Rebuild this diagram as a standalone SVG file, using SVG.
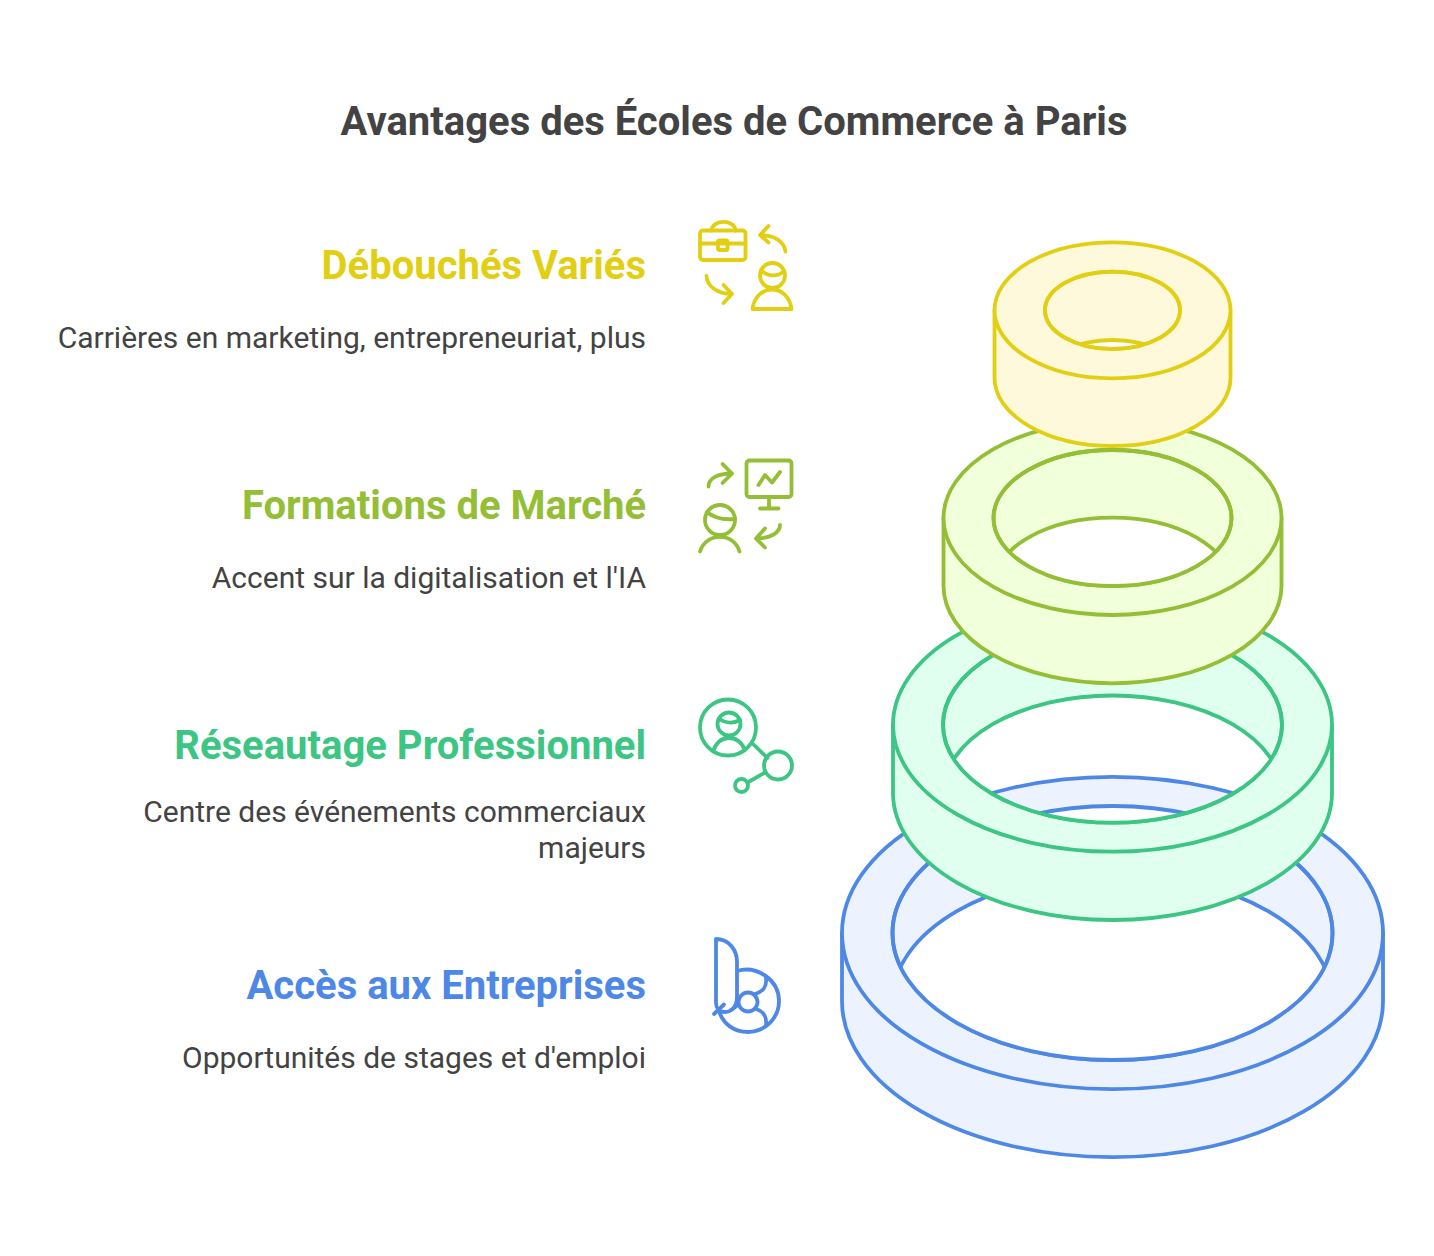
<svg xmlns="http://www.w3.org/2000/svg" width="1434" height="1256" viewBox="0 0 1434 1256">
<style>
text{font-family:Roboto,"Liberation Sans",sans-serif;text-anchor:end}
.t{font-size:40px;font-weight:700;fill:#434343;text-anchor:middle}
.h{font-size:40px;font-weight:700}
.b{font-size:30px;fill:#434343}
.s{stroke-width:3.8;stroke-linejoin:round}
.i{fill:none;stroke-width:3.8;stroke-linecap:round;stroke-linejoin:round}
.y{stroke:#E2CF13}.yf{fill:#FEF9DB}
.g{stroke:#93BE35}.gf{fill:#F1FFDA}
.e{stroke:#3CC583}.ef{fill:#E1FFEF}
.l{stroke:#4E88E7}.lf{fill:#ECF3FF}
.w{fill:#fff}
.n{fill:none}
</style>
<defs>
<clipPath id="cb"><ellipse cx="1112.5" cy="933" rx="220" ry="127"/></clipPath>
<clipPath id="ce"><ellipse cx="1112.5" cy="724.7" rx="169.5" ry="98"/></clipPath>
<clipPath id="cg"><ellipse cx="1112.5" cy="518" rx="119" ry="68"/></clipPath>
<clipPath id="cy"><ellipse cx="1112.5" cy="310.3" rx="67.5" ry="38.700"/></clipPath>
</defs>
<rect width="1434" height="1256" fill="#fff"/>
<text class="t" x="734" y="135">Avantages des Écoles de Commerce à Paris</text>

<g id="ring-blue">
<path class="s l lf" d="M842 933V1001A270.500 156.200 0 0 0 1383 1001V933Z"/>
<ellipse class="s l lf" cx="1112.500" cy="933" rx="270.500" ry="156.200"/>
<ellipse class="s l lf" cx="1112.500" cy="933" rx="220" ry="127"/>
<g clip-path="url(#cb)"><ellipse class="s l w" cx="1112.500" cy="1001" rx="220" ry="127"/></g>
<ellipse class="s l n" cx="1112.500" cy="933" rx="220" ry="127"/>
</g>
<g id="ring-teal">
<path class="s e ef" d="M893 724.700V793A219.500 127 0 0 0 1332 793V724.700Z"/>
<ellipse class="s e ef" cx="1112.500" cy="724.700" rx="219.500" ry="127"/>
<ellipse class="s e ef" cx="1112.500" cy="724.700" rx="169.500" ry="98"/>
<g clip-path="url(#ce)">
<ellipse class="w" cx="1112.500" cy="793.500" rx="169.500" ry="98"/>
<g clip-path="url(#ce)">
<ellipse class="s l lf" cx="1112.500" cy="933" rx="270.500" ry="156.200"/>
<ellipse class="s l w" cx="1112.500" cy="933" rx="220" ry="127"/>
</g>
<ellipse class="s e n" cx="1112.500" cy="793.500" rx="169.500" ry="98"/>
</g>
<ellipse class="s e n" cx="1112.500" cy="724.700" rx="169.500" ry="98"/>
</g>
<g id="ring-green">
<path class="s g gf" d="M943.500 518V586A169 97.300 0 0 0 1281.500 586V518Z"/>
<ellipse class="s g gf" cx="1112.500" cy="518" rx="169" ry="97"/>
<ellipse class="s g gf" cx="1112.500" cy="518" rx="119" ry="68"/>
<g clip-path="url(#cg)"><ellipse class="s g w" cx="1112.500" cy="585.700" rx="119" ry="68"/></g>
<ellipse class="s g n" cx="1112.500" cy="518" rx="119" ry="68"/>
</g>
<g id="ring-yellow">
<path class="s y yf" d="M994.500 310.300V378A118 68 0 0 0 1230.500 378V310.300Z"/>
<ellipse class="s y yf" cx="1112.500" cy="310.300" rx="118" ry="68"/>
<ellipse class="s y yf" cx="1112.500" cy="310.300" rx="67.500" ry="38.700"/>
<g clip-path="url(#cy)"><ellipse class="s y w" cx="1112.500" cy="378.700" rx="67.500" ry="38.700"/></g>
<ellipse class="s y n" cx="1112.500" cy="310.300" rx="67.500" ry="38.700"/>
</g>

<g id="item-debouches">
<text class="h" x="646" y="279" fill="#E2CF13">Débouchés Variés</text>
<text class="b" x="646" y="348">Carrières en marketing, entrepreneuriat, plus</text>
<g class="i y">
<rect x="700" y="230.500" width="45.500" height="29.500" rx="3"/>
<path d="M700 243.500H745.500M711.500 230.500C712 219 735 219 735.500 230.500"/>
<rect x="718" y="240.500" width="9.500" height="9.500" rx="1.500"/>
<path d="M785.500 251.500C784 241 774 235 760 235M768.500 226L760 235L768.500 242.500"/>
<path d="M706.500 276C707 286 717 294 732 294M723.500 285L732 294L723.500 303"/>
<circle cx="772.500" cy="275.500" r="12.500"/>
<path d="M761 270C768 277 778 277 784 271"/>
<path d="M752.500 309C756 283 788 283 791.500 309Z"/>
</g>
</g>

<g id="item-formations">
<text class="h" x="646" y="519" fill="#93BE35">Formations de Marché</text>
<text class="b" x="646" y="588">Accent sur la digitalisation et l'IA</text>
<g class="i g">
<rect x="746.500" y="460.500" width="45" height="36.500" rx="3"/>
<path d="M769 497V508M760 508.500H778.500"/>
<path d="M758.500 485L765 475L772 482.500L780 472"/>
<path d="M708.500 486.500C708.500 478 718 473.500 732 473.500M722.500 464L732 473.500L722.500 483"/>
<path d="M780 525C780 533 770 538.500 756 538.500M765 528.500L756 538.500L765 547.500"/>
<circle cx="720" cy="520" r="15"/>
<path d="M707 512C714 518 724 520 735 519"/>
<path d="M700 551.500C706 532 734 532 739.500 551.500"/>
</g>
</g>

<g id="item-reseautage">
<text class="h" x="646" y="759" fill="#3CC583">Réseautage Professionnel</text>
<text class="b" x="646" y="822">Centre des événements commerciaux</text>
<text class="b" x="646" y="858">majeurs</text>
<g class="i e">
<circle cx="728" cy="727.500" r="28"/>
<circle cx="729" cy="724" r="11.500"/>
<path d="M719 718.500C725 723 733 724 740 720"/>
<path d="M713.500 750C720 734 738 734 745 750"/>
<path d="M752.500 743.500L767.500 758"/>
<circle cx="778" cy="765.500" r="14"/>
<circle cx="741.500" cy="785.500" r="6.500"/>
<path d="M747.500 782.500L765 772.500"/>
</g>
</g>

<g id="item-acces">
<text class="h" x="646" y="999" fill="#4E88E7">Accès aux Entreprises</text>
<text class="b" x="646" y="1068">Opportunités de stages et d'emploi</text>
<g class="i l">
<path d="M716 939C729 939 737 950 737 962V997C737 1006 732 1012 725 1012C719 1012 716 1008 716 1003Z"/>
<path d="M714 1014L724 1004.500"/>
<path d="M737 971C757 965 779 980 779 1001C779 1018 765 1032 748 1032C734 1032 723 1024 719 1011"/>
<circle cx="748" cy="1002" r="9.500"/>
<path d="M755 994C763 992 767 986 766 978M756 1009C763 1011 767 1017 766 1025M738 1005C735 1007 733 1009 731 1010"/>
</g>
</g>
</svg>
